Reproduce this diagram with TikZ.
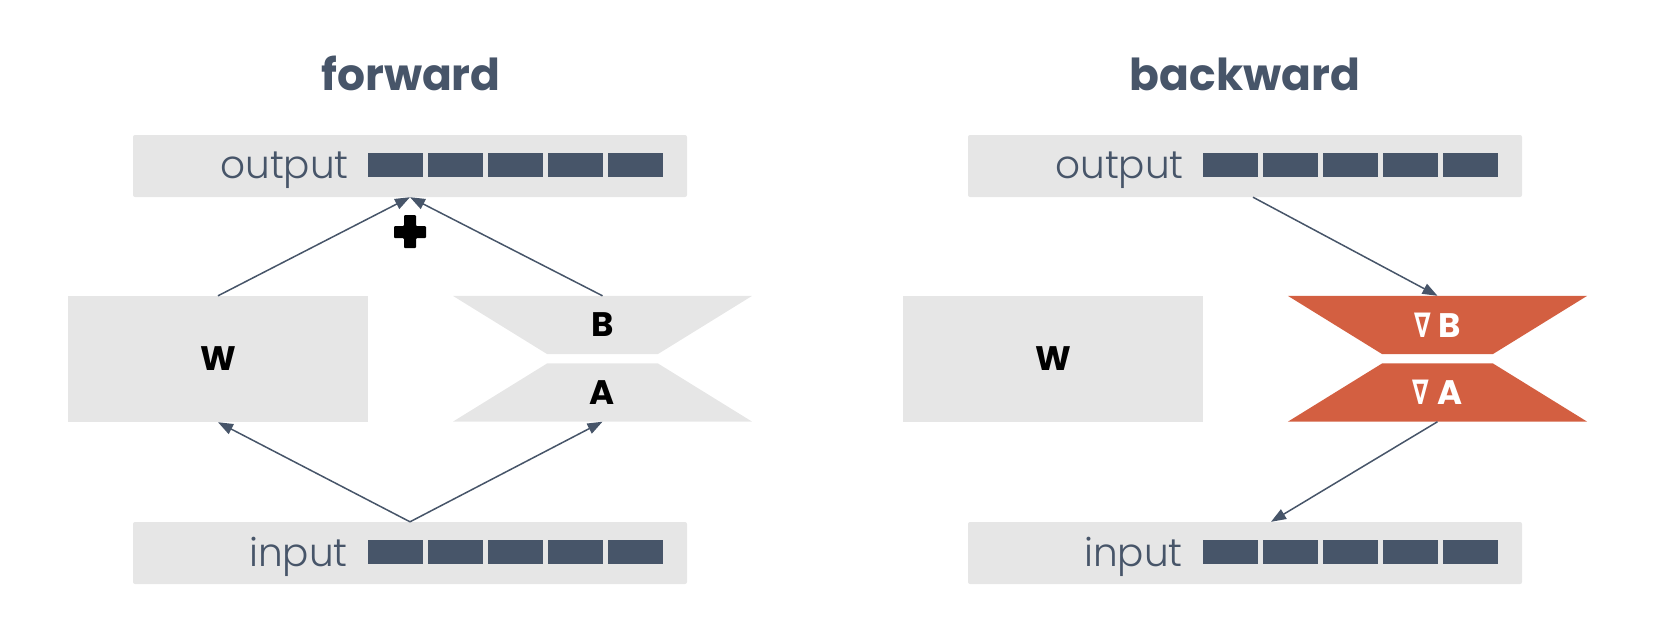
\documentclass[tikz,border=0pt]{standalone}
\usepackage{fontspec}
\setmainfont{Poppins}
\newfontfamily\lightfont{Poppins Light}
\newfontfamily\symfont{DejaVu Sans}
\usetikzlibrary{arrows.meta,backgrounds}
\definecolor{slate}{HTML}{475569}
\definecolor{boxgray}{HTML}{E6E6E6}
\definecolor{gradred}{HTML}{D35F41}
\newcommand{\nablasym}{\scalebox{0.7}[1]{\symfont\bfseries\fontsize{34}{38}\selectfont ∇}\hspace{8pt}}
\tikzset{
  panel/.style={fill=boxgray, rounded corners=2pt, minimum width=554pt, minimum height=62pt, inner sep=0pt},
  cell/.style={fill=slate, minimum width=55pt, minimum height=24pt, inner sep=0pt},
  veclabel/.style={anchor=base east, text=slate, font=\lightfont\fontsize{39}{47}\selectfont, inner sep=0pt},
  paneltitle/.style={anchor=base, text=slate, font=\bfseries\fontsize{44}{52}\selectfont, inner sep=0pt},
  wbox/.style={fill=boxgray, minimum width=300pt, minimum height=126pt, inner sep=0pt, font=\bfseries\fontsize{34}{40}\selectfont},
  trap/.style={minimum width=299pt, minimum height=58pt, inner sep=0pt, font=\bfseries\fontsize{34}{40}\selectfont},
  link/.style={draw=slate, line width=1.5pt, -{Triangle[length=15pt,width=11pt]}},
}
\begin{document}
\begin{tikzpicture}[x=1pt,y=-1pt]
\useasboundingbox (0,0) rectangle (1680,630);
% ---------------- forward ----------------
\node[paneltitle] (tF) at (411,90) {forward};
\node[panel] (outL) at (410,166) {};
\node[veclabel] (outLtxt) at (349,178) {output};
\foreach \i in {0,...,4} \node[cell] (oL\i) at (395.5+60*\i,165) {};
\node[wbox] (WL) at (218,359) {W};
\node[trap] (BL) at (602.5,325) {B};
\node[trap] (AL) at (602.5,392.5) {A};
\node[panel] (inL) at (410,553) {};
\node[veclabel] (inLtxt) at (348,566) {input};
\foreach \i in {0,...,4} \node[cell] (iL\i) at (395.5+60*\i,552) {};
% ---------------- backward ----------------
\node[paneltitle] (tB) at (1245,90) {backward};
\node[panel] (outR) at (1245,166) {};
\node[veclabel] (outRtxt) at (1184,178) {output};
\foreach \i in {0,...,4} \node[cell] (oR\i) at (1230.5+60*\i,165) {};
\node[wbox] (WR) at (1053,359) {W};
\node[trap, text=white] (dB) at (1437.5,325) {\nablasym B};
\node[trap, text=white] (dA) at (1437.5,392.5) {\nablasym A};
\node[panel] (inR) at (1245,553) {};
\node[veclabel] (inRtxt) at (1183,566) {input};
\foreach \i in {0,...,4} \node[cell] (iR\i) at (1230.5+60*\i,552) {};
% trapezoid fills
\begin{scope}[on background layer]
  \fill[boxgray] (BL.north west) -- (BL.north east) -- ([xshift=-94.5pt]BL.south east) -- ([xshift=94.5pt]BL.south west) -- cycle;
  \fill[boxgray] (AL.south west) -- (AL.south east) -- ([xshift=-94.5pt]AL.north east) -- ([xshift=94.5pt]AL.north west) -- cycle;
  \fill[gradred] (dB.north west) -- (dB.north east) -- ([xshift=-94.5pt]dB.south east) -- ([xshift=94.5pt]dB.south west) -- cycle;
  \fill[gradred] (dA.south west) -- (dA.south east) -- ([xshift=-94.5pt]dA.north east) -- ([xshift=94.5pt]dA.north west) -- cycle;
\end{scope}
% plus sign
\fill[black, rounded corners=1pt] (404,215) -- (416,215) -- (416,226) -- (426,226) -- (426,238) -- (416,238) -- (416,248) -- (404,248) -- (404,238) -- (394,238) -- (394,226) -- (404,226) -- cycle;
% connectors
\draw[link] (WL.north) -- (outL.south);
\draw[link] (BL.north) -- (outL.south);
\draw[link] (inL.north) -- (WL.south);
\draw[link] (inL.north) -- (AL.south);
\draw[link] ([xshift=8pt]outR.south) -- (dB.north);
\draw[link] (dA.south) -- ([xshift=26pt]inR.north);
\end{tikzpicture}
\end{document}
